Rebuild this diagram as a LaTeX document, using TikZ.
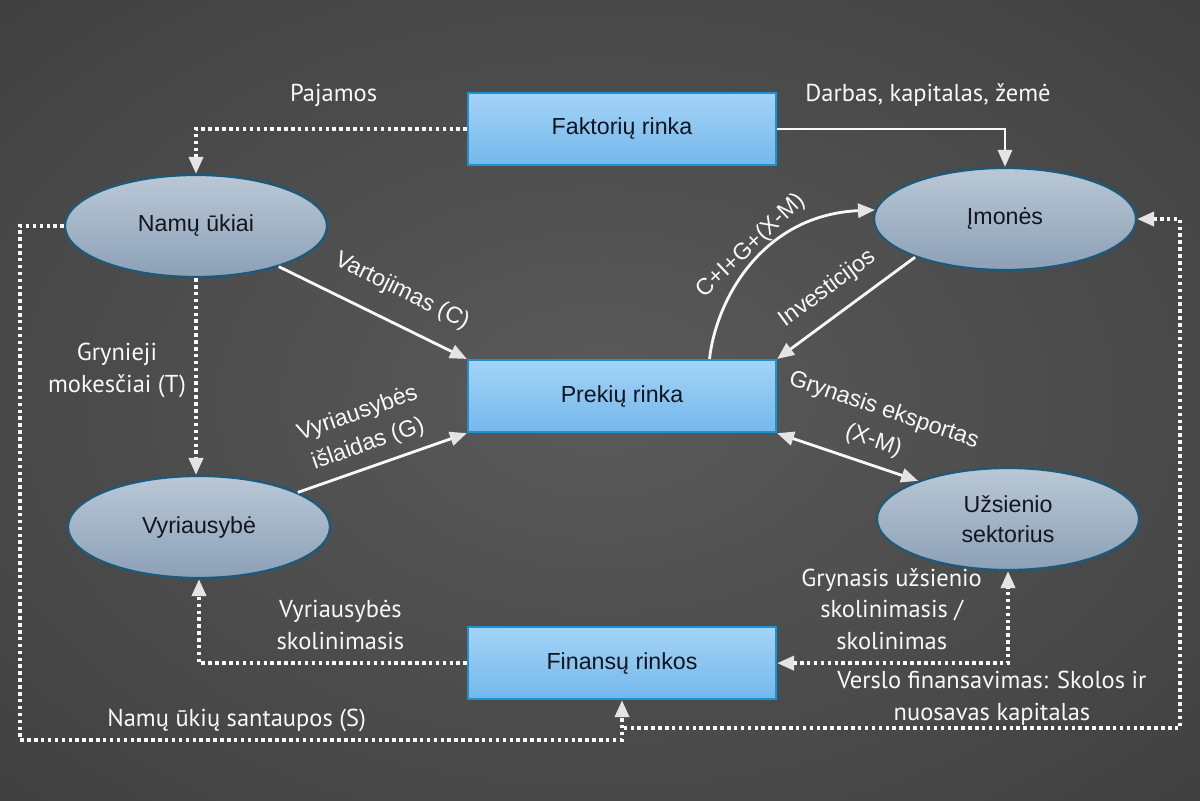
\documentclass[tikz,border=0pt]{standalone}
\usepackage{fontspec}
\setmainfont{Liberation Sans}
\newfontfamily\plonas{PT Sans}
\usetikzlibrary{shapes.geometric, arrows.meta, positioning}

\definecolor{fonasvid}{RGB}{90,90,90}
\definecolor{fonastarp}{RGB}{64,64,64}
\definecolor{fonaskrast}{RGB}{34,34,34}
\definecolor{rinkavirs}{RGB}{164,211,246}
\definecolor{rinkaapac}{RGB}{116,184,236}
\definecolor{rinkakrast}{RGB}{30,146,206}
\definecolor{sektvirs}{RGB}{186,200,214}
\definecolor{sektapac}{RGB}{140,160,182}
\definecolor{sektkrast}{RGB}{28,90,122}
\definecolor{tamsus}{RGB}{18,22,30}
\definecolor{balta}{RGB}{248,248,248}
\definecolor{antgalis}{RGB}{228,228,228}

\pgfdeclareradialshading{fonas}{\pgfpoint{0bp}{0bp}}{color(0bp)=(fonasvid); color(36bp)=(fonastarp); color(72bp)=(fonaskrast)}

\begin{document}
\begin{tikzpicture}[x=0.025cm, y=-0.025cm, node distance=6.675cm,
    >={Triangle[length=12pt, width=10pt, color=antgalis]},
    rinka/.style={rectangle, draw=rinkakrast, line width=1.6pt, top color=rinkavirs, bottom color=rinkaapac,
        minimum width=7.7cm, minimum height=1.8cm, text=tamsus, font=\fontsize{16.5}{20.5}\selectfont},
    sektorius/.style={ellipse, draw=sektkrast, line width=1.6pt, top color=sektvirs, bottom color=sektapac,
        minimum width=6.55cm, minimum height=2.55cm, inner sep=0pt, align=center, text=tamsus,
        font=\fontsize{16.5}{21}\selectfont},
    srautas/.style={->, draw=balta, line width=2pt},
    taskinis/.style={srautas, line width=2.5pt, dash pattern=on 2.5pt off 2.4pt},
    kreivas/.style={sloped, text=balta, align=center, inner sep=0pt, font=\fontsize{16.5}{23}\selectfont},
    uzrasas/.style={text=balta, align=center, inner sep=0pt, font=\plonas\fontsize{17.4}{22.5}\selectfont}]

    \shade[shading=fonas] (0,0) rectangle (1200,800);

    \node[rinka] (faktoriai) at (622,129) {Faktorių rinka};
    \node[rinka] (prekes) [below of=faktoriai] {Prekių rinka};
    \node[rinka] (finansai) [below of=prekes] {Finansų rinkos};

    \node[sektorius] (namai) at (196,226) {Namų ūkiai};
    \node[sektorius] (imones) at (1005,219) {Įmonės};
    \node[sektorius] (vyriausybe) at (199,527) {Vyriausybė};
    \node[sektorius] (uzsienis) at (1008,519) {Užsienio\\sektorius};

    \coordinate (kairys) at (20,740);
    \coordinate (desinys) at (1180,728);

    \path
        (namai) edge[srautas] node[kreivas, above=14pt, pos=0.58] {Vartojimas (C)} (prekes.north west)
        (vyriausybe) edge[srautas] node[kreivas, above=7pt, pos=0.46] {Vyriausybės\\išlaidas (G)} (prekes.south west)
        (imones.203) edge[srautas] node[kreivas, above=10pt, pos=0.52] {Investicijos} (prekes.north east)
        (prekes.south east) edge[srautas, <->] node[kreivas, above=8pt, pos=0.63] {Grynasis eksportas\\(X-M)} (uzsienis.157);

    \draw[srautas] (prekes.23) .. controls (716,300) and (762,215) .. (imones.176)
        node[kreivas, above=1pt, pos=0.55] {C+I+G+(X-M)};

    \draw[taskinis] (faktoriai.west) -| node[uzrasas, pos=0.246, yshift=0.85cm] {Pajamos} (namai.north);
    \draw[srautas] (faktoriai.east) -| node[uzrasas, pos=0.331, yshift=0.85cm] {Darbas, kapitalas, žemė} (imones.north);
    \draw[taskinis] (namai.south) -- node[uzrasas, pos=0.47, xshift=-1.975cm] {Grynieji\\mokesčiai (T)} (namai.south |- vyriausybe.north);
    \draw[taskinis] (finansai.west) -| node[uzrasas, pos=0.236, yshift=0.95cm] {Vyriausybės\\skolinimasis} (vyriausybe.south);
    \draw[taskinis, <->] (finansai.east) -| node[uzrasas, pos=0.248, yshift=1.35cm] {Grynasis užsienio\\skolinimasis /\\skolinimas} (uzsienis.south);
    \draw[taskinis] (namai.west) -| (kairys) -| node[uzrasas, pos=0.18, yshift=0.5cm] {Namų ūkių santaupos (S)} (finansai.south);
    \draw[taskinis, <-] (imones.east) -| (desinys) -- node[uzrasas, pos=0.337, yshift=0.75cm] {Verslo finansavimas: Skolos ir\\nuosavas kapitalas} (finansai.south |- desinys);
\end{tikzpicture}
\end{document}
